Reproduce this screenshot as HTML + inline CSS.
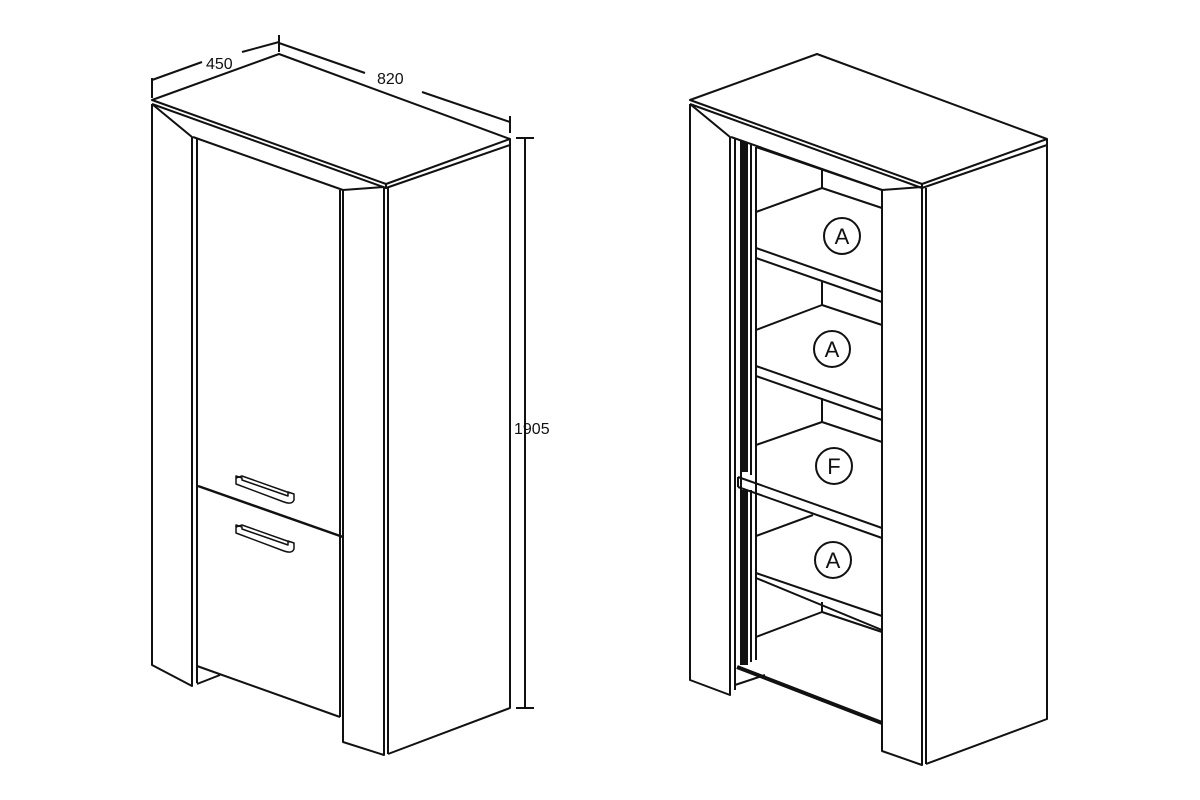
<!DOCTYPE html>
<html><head><meta charset="utf-8"><style>
html,body{margin:0;padding:0;background:#fff;}
svg{display:block;}
text{font-family:"Liberation Sans",sans-serif;font-size:16px;fill:#111;}
</style></head><body>
<svg width="1200" height="800" viewBox="0 0 1200 800" xmlns="http://www.w3.org/2000/svg">
<g fill="none" stroke="#111" stroke-width="2" stroke-linejoin="round">
<!-- LEFT CABINET -->
<!-- top slab -->
<path d="M152,100 L279,54 L510,139 L386,184 Z"/>
<path d="M152,104 L386,188 L510,145"/>
<line x1="386" y1="184" x2="386" y2="188"/>
<line x1="510" y1="139" x2="510" y2="145"/>
<!-- left post -->
<path d="M152,104 L152,665 L192,686 L192,137 L152,104"/>
<line x1="197" y1="138" x2="197" y2="683"/>
<path d="M193,137 L343,190 L384,187"/>
<!-- right post & side -->
<path d="M343,190 L343,742 L384,755 L384,187"/>
<line x1="388" y1="188" x2="388" y2="754"/>
<path d="M388,754 L510,708 L510,145"/>
<!-- door -->
<line x1="340" y1="190" x2="340" y2="717"/>
<line x1="198" y1="486" x2="343" y2="537" stroke-width="2.5"/>
<path d="M197,666 L340,717"/>
<path d="M197,684 L220,675"/>
<!-- handles -->
<path d="M236,476 L236,484 L284,502 Q292,505 294,500 L294,494 L288,492 L288,496 L242,480 L242,478 Z" stroke-width="1.5"/>
<path d="M236,478 L242,476 L290,493" stroke-width="1.5"/>
<path d="M236,525 L236,533 L284,551 Q292,554 294,549 L294,543 L288,541 L288,545 L242,529 L242,527 Z" stroke-width="1.5"/>
<path d="M236,527 L242,525 L290,542" stroke-width="1.5"/>
<!-- dimensions -->
<line x1="152" y1="80" x2="202" y2="62"/>
<line x1="242" y1="52" x2="279" y2="42"/>
<line x1="152" y1="78" x2="152" y2="98"/>
<line x1="279" y1="35" x2="279" y2="52"/>
<line x1="279" y1="43" x2="365" y2="73"/>
<line x1="422" y1="92" x2="510" y2="122"/>
<line x1="510" y1="116" x2="510" y2="133"/>
<line x1="525" y1="138" x2="525" y2="708"/>
<line x1="516" y1="138" x2="534" y2="138"/>
<line x1="516" y1="708" x2="534" y2="708"/>

<!-- RIGHT CABINET -->
<path d="M690,100 L817,54 L1047,139 L922,184 Z"/>
<path d="M690,104 L922,188 L1047,145"/>
<line x1="922" y1="184" x2="922" y2="188"/>
<line x1="1047" y1="139" x2="1047" y2="145"/>
<path d="M690,104 L690,680 L730,695 L730,137 L690,104"/>
<path d="M731,137 L882,190 L922,187"/>
<path d="M882,190 L882,751 L922,765 L922,187"/>
<line x1="926" y1="188" x2="926" y2="764"/>
<path d="M926,764 L1047,719 L1047,145"/>
<!-- door edge strips -->
<line x1="735" y1="138" x2="735" y2="690"/>
<line x1="741" y1="140" x2="741" y2="665"/>
<rect x="742" y="142" width="6" height="330" fill="#111" stroke="none"/>
<rect x="742" y="490" width="6" height="175" fill="#111" stroke="none"/>
<line x1="751" y1="145" x2="751" y2="475"/>
<line x1="751" y1="490" x2="751" y2="662"/>
<line x1="756" y1="147" x2="756" y2="660"/>
<!-- inner top -->
<path d="M756,147 L882,190"/>
<line x1="822" y1="170" x2="822" y2="188"/>
<!-- shelf 1 -->
<path d="M756,212 L822,188 L882,208"/>
<path d="M756,248 L882,292 M756,258 L882,302"/>
<line x1="822" y1="282" x2="822" y2="305"/>
<!-- shelf 2 -->
<path d="M756,330 L822,305 L882,325"/>
<path d="M756,366 L882,410 M756,376 L882,420"/>
<line x1="822" y1="398" x2="822" y2="422"/>
<!-- shelf 3 -->
<path d="M756,445 L822,422 L882,442"/>
<!-- F shelf -->
<path d="M738,477 L882,528 M738,487 L882,538 M738,477 L738,487"/>
<path d="M756,536 L813,515"/>
<!-- shelf 4 -->
<path d="M756,573 L882,616 M756,578 L882,630"/>
<line x1="822" y1="602" x2="822" y2="612"/>
<path d="M756,637 L822,612 L882,632"/>
<!-- bottom -->
<path d="M737,667 L882,723" stroke-width="4"/>
<path d="M735,685 L765,675"/>
<!-- labels -->
<circle cx="842" cy="236" r="18"/>
<circle cx="832" cy="349" r="18"/>
<circle cx="834" cy="466" r="18"/>
<circle cx="833" cy="560" r="18"/>
</g>
<text x="206" y="69">450</text>
<text x="377" y="84">820</text>
<text x="514" y="434">1905</text>
<g style="font-size:22px" text-anchor="middle">
<text x="842" y="244" style="font-size:22px">A</text>
<text x="832" y="357" style="font-size:22px">A</text>
<text x="834" y="474" style="font-size:22px">F</text>
<text x="833" y="568" style="font-size:22px">A</text>
</g>
</svg>
</body></html>
